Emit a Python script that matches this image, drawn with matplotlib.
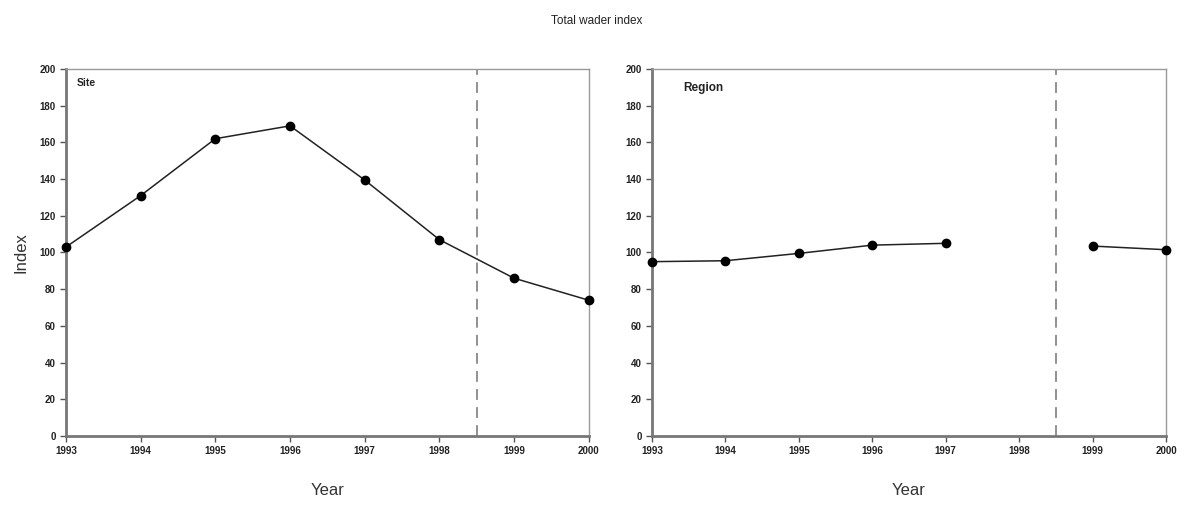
import matplotlib
matplotlib.use("Agg")
import matplotlib.pyplot as plt
import numpy as np

plt.rcParams['font.family'] = ['Liberation Sans', 'DejaVu Sans']

years = [1993, 1994, 1995, 1996, 1997, 1998, 1999, 2000]
site_index = [103, 131, 162, 169, 139.5, 107, 86, 74]
# no regional count in 1998
region_index = [95, 95.5, 99.5, 104, 105, np.nan, 103.5, 101.5]
break_year = 1998.5
yticks = list(range(0, 201, 20))

fig = plt.figure(figsize=(11.94, 5.07), dpi=100)
fig.text(0.5, 0.958, "Total wader index", ha="center", va="center", fontsize=8.5, color="#222222")

panels = [
    ([0.0553, 0.140, 0.4377, 0.724], site_index, "Site", True),
    ([0.546, 0.140, 0.4305, 0.724], region_index, "Region", False),
]

for rect, values, label, show_ylabel in panels:
    ax = fig.add_axes(rect)
    ax.plot(years, values, color="#222222", lw=1.1, marker="o", ms=6,
            mfc="black", mec="black", zorder=3, clip_on=False)
    ax.axvline(break_year, color="#888888", lw=1.3, ls=(0, (6, 4)))
    ax.set_xlim(1993, 2000)
    ax.set_ylim(0, 200)
    ax.set_xticks(years)
    ax.set_yticks(yticks)
    ax.tick_params(labelsize=7, direction="out", length=4, width=1, color="#555555")
    for t in ax.get_xticklabels() + ax.get_yticklabels():
        t.set_fontweight("bold")
        t.set_color("#222222")
    for side in ["left", "bottom"]:
        ax.spines[side].set_color("#777777")
        ax.spines[side].set_linewidth(2)
    for side in ["top", "right"]:
        ax.spines[side].set_color("#999999")
        ax.spines[side].set_linewidth(1)
    ax.set_xlabel("Year", fontsize=12, color="#333333", labelpad=19)
    if show_ylabel:
        ax.set_ylabel("Index", fontsize=12, color="#333333", labelpad=8)
    if label == "Site":
        ax.text(0.02, 0.975, label, transform=ax.transAxes, fontsize=7.5,
                fontweight="bold", va="top", ha="left", color="#222222")
    else:
        ax.text(0.06, 0.965, label, transform=ax.transAxes, fontsize=8.5,
                fontweight="bold", va="top", ha="left", color="#222222")

fig.savefig("out.png", dpi=100)
